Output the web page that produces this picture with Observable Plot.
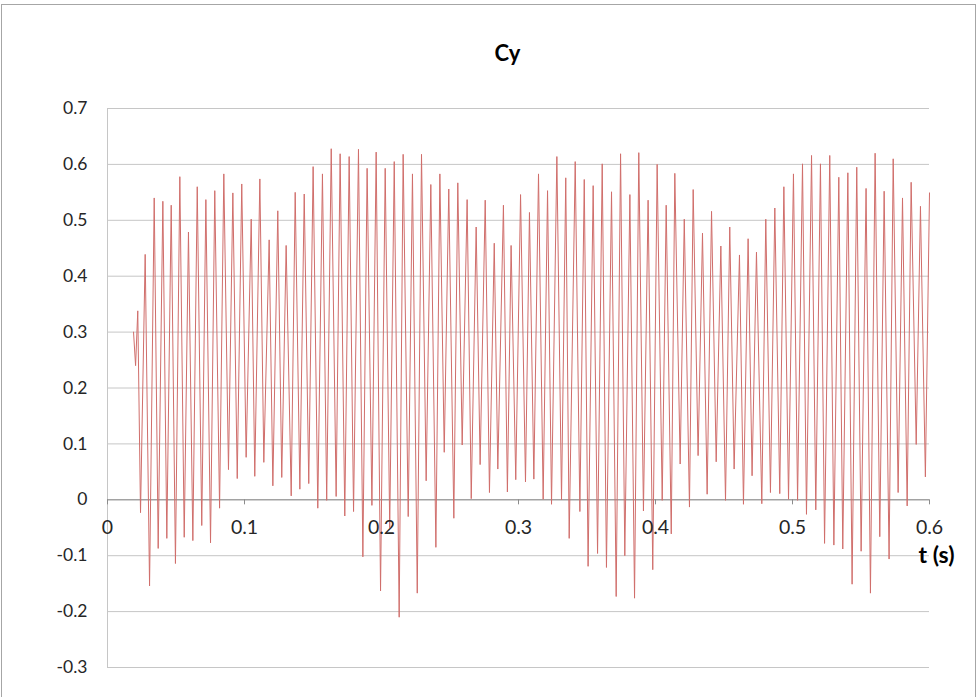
<!DOCTYPE html>
<html><head><meta charset="utf-8">
<script src="https://cdn.jsdelivr.net/npm/d3@7"></script>
<script src="https://cdn.jsdelivr.net/npm/@observablehq/plot@0.6"></script>
<style>
html,body{margin:0;padding:0;background:#fff;}
#frame{position:absolute;left:1px;top:4px;width:975px;height:700px;border:1px solid #a6a6a6;box-sizing:border-box;}
#chart{position:absolute;left:0;top:0;}
</style></head><body>
<div id="frame"></div>
<div id="chart"></div>
<script>
const title = "Cy";
const xLabel = "t (s)";
const xTicks = [0, 0.1, 0.2, 0.3, 0.4, 0.5, 0.6];
const yTicks = [-0.3, -0.2, -0.1, 0, 0.1, 0.2, 0.3, 0.4, 0.5, 0.6, 0.7];

const time = [
  0.0190, 0.0205, 0.0221, 0.0241, 0.0275, 0.0307, 0.0341, 0.0370, 0.0404, 0.0433,
  0.0465, 0.0496, 0.0528, 0.0560, 0.0591, 0.0623, 0.0655, 0.0688, 0.0718, 0.0752,
  0.0783, 0.0818, 0.0849, 0.0883, 0.0915, 0.0947, 0.0980, 0.1012, 0.1049, 0.1075,
  0.1112, 0.1141, 0.1180, 0.1207, 0.1243, 0.1272, 0.1304, 0.1341, 0.1370, 0.1404,
  0.1436, 0.1469, 0.1501, 0.1535, 0.1569, 0.1600, 0.1633, 0.1669, 0.1698, 0.1732,
  0.1764, 0.1796, 0.1832, 0.1864, 0.1895, 0.1930, 0.1961, 0.1993, 0.2027, 0.2060,
  0.2093, 0.2129, 0.2158, 0.2195, 0.2226, 0.2261, 0.2292, 0.2326, 0.2360, 0.2397,
  0.2426, 0.2458, 0.2491, 0.2528, 0.2557, 0.2589, 0.2625, 0.2655, 0.2691, 0.2720,
  0.2757, 0.2788, 0.2823, 0.2849, 0.2890, 0.2919, 0.2946, 0.2980, 0.3015, 0.3051,
  0.3080, 0.3112, 0.3146, 0.3180, 0.3212, 0.3241, 0.3280, 0.3314, 0.3345, 0.3370,
  0.3414, 0.3448, 0.3480, 0.3508, 0.3545, 0.3577, 0.3611, 0.3642, 0.3679, 0.3713,
  0.3745, 0.3776, 0.3813, 0.3847, 0.3878, 0.3912, 0.3946, 0.3980, 0.4012, 0.4049,
  0.4078, 0.4115, 0.4141, 0.4180, 0.4210, 0.4248, 0.4275, 0.4311, 0.4343, 0.4377,
  0.4409, 0.4443, 0.4477, 0.4511, 0.4542, 0.4574, 0.4613, 0.4642, 0.4676, 0.4705,
  0.4737, 0.4776, 0.4805, 0.4839, 0.4871, 0.4907, 0.4937, 0.4971, 0.5007, 0.5037,
  0.5073, 0.5102, 0.5139, 0.5170, 0.5204, 0.5234, 0.5272, 0.5302, 0.5338, 0.5367,
  0.5404, 0.5435, 0.5469, 0.5501, 0.5537, 0.5569, 0.5603, 0.5637, 0.5669, 0.5705,
  0.5735, 0.5771, 0.5803, 0.5837, 0.5866, 0.5903, 0.5934, 0.5970, 0.6000
];
const cy = [
  0.300, 0.240, 0.338, -0.023, 0.439, -0.154, 0.540, -0.087, 0.534, -0.069,
  0.527, -0.114, 0.578, -0.067, 0.479, -0.073, 0.560, -0.046, 0.537, -0.077,
  0.553, -0.015, 0.583, 0.054, 0.549, 0.038, 0.565, 0.076, 0.502, 0.042,
  0.574, 0.067, 0.465, 0.025, 0.517, 0.040, 0.455, 0.007, 0.550, 0.019,
  0.547, 0.029, 0.596, -0.015, 0.583, -0.001, 0.628, 0.006, 0.619, -0.029,
  0.614, -0.021, 0.627, -0.102, 0.593, -0.010, 0.622, -0.163, 0.593, -0.050,
  0.605, -0.210, 0.618, -0.030, 0.583, -0.167, 0.618, 0.034, 0.564, -0.085,
  0.583, 0.085, 0.556, -0.033, 0.567, 0.098, 0.537, 0.002, 0.488, 0.063,
  0.536, 0.013, 0.459, 0.055, 0.527, 0.014, 0.455, 0.036, 0.546, 0.032,
  0.514, 0.037, 0.583, 0.001, 0.553, -0.008, 0.614, 0.000, 0.576, -0.069,
  0.605, -0.021, 0.573, -0.119, 0.562, -0.096, 0.601, -0.121, 0.551, -0.173,
  0.619, -0.100, 0.546, -0.176, 0.621, -0.020, 0.536, -0.125, 0.600, -0.001,
  0.527, -0.061, 0.584, 0.064, 0.502, -0.013, 0.555, 0.079, 0.477, 0.010,
  0.516, 0.068, 0.454, -0.001, 0.488, 0.055, 0.438, -0.008, 0.467, 0.043,
  0.443, -0.007, 0.502, 0.013, 0.522, 0.011, 0.560, 0.001, 0.583, -0.001,
  0.601, -0.026, 0.616, -0.018, 0.601, -0.078, 0.616, -0.081, 0.577, -0.088,
  0.585, -0.151, 0.595, -0.092, 0.557, -0.167, 0.620, -0.066, 0.552, -0.106,
  0.610, 0.013, 0.540, -0.011, 0.568, 0.099, 0.525, 0.041, 0.549
];

const points = time.map((t, i) => ({t, cy: cy[i]}));
const fmt = d => String(Math.round(d * 10) / 10);

const chart = Plot.plot({
  width: 978, height: 697,
  marginTop: 108, marginBottom: 30, marginLeft: 107, marginRight: 49,
  style: {fontFamily: "Lato, 'Open Sans', sans-serif", background: "transparent", color: "#262626"},
  x: {domain: [0, 0.6], axis: null},
  y: {domain: [-0.3, 0.7], axis: null},
  marks: [
    Plot.ruleY(yTicks, {y: d => d, stroke: "#c6c6c6", strokeWidth: 1}),
    Plot.ruleX([0], {x: d => d, stroke: "#c6c6c6", strokeWidth: 1}),
    Plot.ruleY([0], {y: d => d, stroke: "#8c8c8c", strokeWidth: 1}),
    Plot.ruleX(xTicks, {x: d => d, y1: 0, y2: -0.009, stroke: "#8c8c8c", strokeWidth: 1}),
    Plot.line(points, {x: "t", y: "cy", stroke: "#d06e6b", strokeWidth: 1}),
    Plot.text(yTicks, {x: 0, y: d => d, text: fmt, textAnchor: "end", dx: -20, fontSize: 17.5, fill: "#262626"}),
    Plot.text(xTicks, {x: d => d, y: 0, text: fmt, dy: 28, fontSize: 19.5, fill: "#262626"}),
    Plot.text([title], {frameAnchor: "top", dx: -11, dy: -63, text: d => d, fontWeight: "bold", fontSize: 22, fill: "#000"}),
    Plot.text([xLabel], {frameAnchor: "bottom-right", textAnchor: "start", dx: -11, dy: -105, text: d => d, fontWeight: "bold", fontSize: 23, fill: "#000", style: {wordSpacing: "3px"}})
  ]
});
document.getElementById("chart").appendChild(chart);
</script></body></html>
